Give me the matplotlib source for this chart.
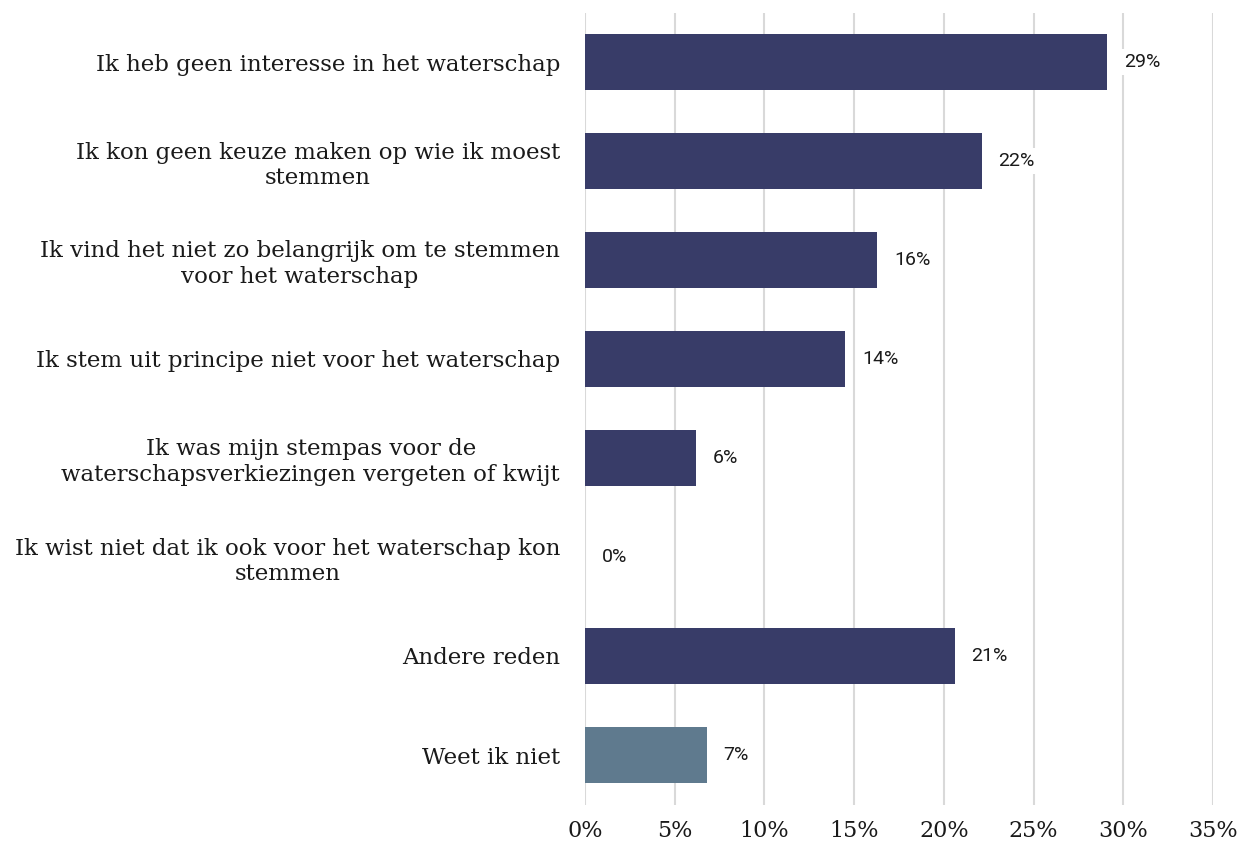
import matplotlib
matplotlib.use("Agg")
import matplotlib.pyplot as plt

categories = [
    "Ik heb geen interesse in het waterschap",
    "Ik kon geen keuze maken op wie ik moest\nstemmen",
    "Ik vind het niet zo belangrijk om te stemmen\nvoor het waterschap",
    "Ik stem uit principe niet voor het waterschap",
    "Ik was mijn stempas voor de\nwaterschapsverkiezingen vergeten of kwijt",
    "Ik wist niet dat ik ook voor het waterschap kon\nstemmen",
    "Andere reden",
    "Weet ik niet",
]
values = [29.1, 22.1, 16.3, 14.5, 6.2, 0.0, 20.6, 6.8]
value_labels = ["29%", "22%", "16%", "14%", "6%", "0%", "21%", "7%"]
colors = ["#383c68"] * 7 + ["#5f7a8e"]
xticks = [0, 5, 10, 15, 20, 25, 30, 35]
xtick_labels = ["0%", "5%", "10%", "15%", "20%", "25%", "30%", "35%"]

fig = plt.figure(figsize=(12.43, 8.48), dpi=100)
ax = fig.add_axes([585 / 1243, 1 - 804.5 / 848, (1213 - 585) / 1243, 792 / 848])

ypos = list(range(len(categories)))
ax.barh(ypos, values, height=0.56, color=colors, zorder=3)
ax.set_ylim(len(categories) - 0.5, -0.5)
ax.set_xlim(0, 35)

ax.set_xticks(xticks)
ax.set_xticklabels(xtick_labels, fontsize=16, family="DejaVu Serif", color="#1a1a1a")
ax.set_yticks(ypos)
ax.set_yticklabels(categories, fontsize=16.5, family="DejaVu Serif", color="#1a1a1a",
                   multialignment="center", linespacing=1.2)
ax.tick_params(axis="y", length=0, pad=18)
ax.tick_params(axis="x", length=0, pad=11)

ax.grid(axis="x", color="#d9d9d9", linewidth=1.5, zorder=0)
for s in ax.spines.values():
    s.set_visible(False)

for y, v, lab in zip(ypos, values, value_labels):
    ax.annotate(lab, xy=(v, y), xytext=(12, 0), textcoords="offset points",
                va="center", ha="left", fontsize=14, family="Roboto", color="#1a1a1a",
                bbox=dict(boxstyle="square,pad=0.2", facecolor="white", edgecolor="none"),
                zorder=4)

fig.savefig("out.png", dpi=100)
